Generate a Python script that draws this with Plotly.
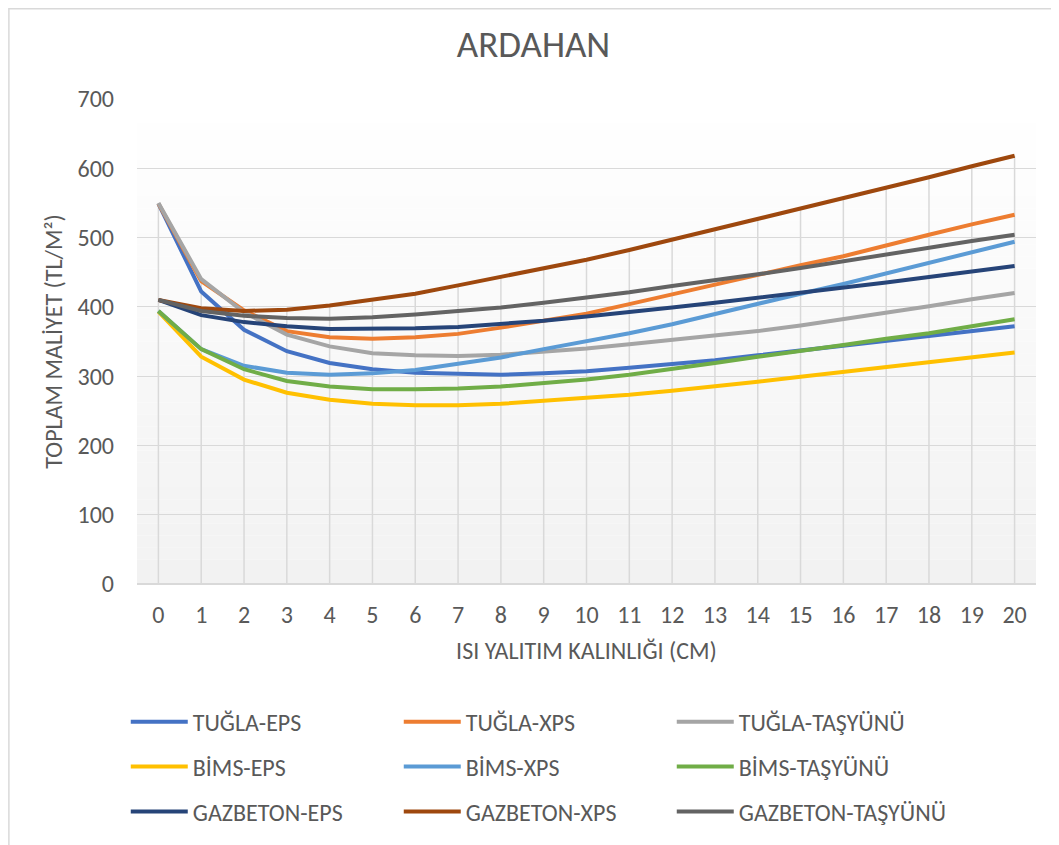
import plotly.graph_objects as go

# ısı yalıtım kalınlığı (cm)
thickness = list(range(21))

tugla_eps = [549, 422, 367, 336, 319, 310, 305, 303, 302, 304, 307, 312, 317, 323, 330, 337, 344, 352, 359, 366, 372]
tugla_xps = [549, 437, 395, 365, 356, 354, 356, 361, 370, 380, 390, 404, 418, 432, 447, 460, 473, 489, 504, 519, 533]
tugla_tasyunu = [550, 440, 392, 360, 343, 333, 330, 329, 331, 335, 340, 346, 352, 358, 365, 373, 382, 391, 401, 411, 420]
bims_eps = [393, 328, 295, 276, 266, 260, 258, 258, 260, 264, 268, 273, 279, 285, 292, 299, 306, 313, 319, 326, 334]
bims_xps = [394, 339, 315, 305, 302, 304, 309, 318, 327, 339, 350, 362, 375, 390, 405, 419, 433, 448, 464, 479, 494]
bims_tasyunu = [394, 339, 310, 293, 285, 281, 281, 282, 285, 290, 295, 302, 310, 319, 328, 336, 345, 354, 362, 372, 382]
gazbeton_eps = [410, 388, 378, 372, 368, 368, 369, 371, 375, 380, 386, 392, 399, 406, 413, 420, 427, 435, 443, 451, 459]
gazbeton_xps = [410, 398, 394, 396, 402, 410, 419, 431, 443, 455, 468, 482, 497, 511, 526, 541, 556, 571, 587, 603, 618]
gazbeton_tasyunu = [410, 394, 387, 384, 383, 385, 389, 394, 399, 406, 413, 421, 430, 438, 447, 456, 466, 475, 485, 495, 504]

names = ["TUĞLA-EPS", "TUĞLA-XPS", "TUĞLA-TAŞYÜNÜ",
         "BİMS-EPS", "BİMS-XPS", "BİMS-TAŞYÜNÜ",
         "GAZBETON-EPS", "GAZBETON-XPS", "GAZBETON-TAŞYÜNÜ"]
series = [tugla_eps, tugla_xps, tugla_tasyunu,
          bims_eps, bims_xps, bims_tasyunu,
          gazbeton_eps, gazbeton_xps, gazbeton_tasyunu]
colors = ["#4472C4", "#ED7D31", "#A5A5A5",
          "#FFC000", "#5B9BD5", "#70AD47",
          "#264478", "#9E480E", "#636363"]

FONT = "'Liberation Sans Narrow', Carlito, Calibri, sans-serif"
GREY = "#595959"

fig = go.Figure()

# drop lines (from the highest series down to the axis)
drop_x, drop_y = [], []
for i, t in enumerate(thickness):
    top = max(s[i] for s in series)
    drop_x += [t, t, None]
    drop_y += [0, top, None]
fig.add_trace(go.Scatter(x=drop_x, y=drop_y, mode="lines",
                         line=dict(color="#d9d9d9", width=1.5),
                         showlegend=False, hoverinfo="skip"))

legends = ["legend", "legend2", "legend3"]
for k, (nm, s, c) in enumerate(zip(names, series, colors)):
    fig.add_trace(go.Scatter(x=thickness, y=s, name=nm, mode="lines",
                             line=dict(color=c, width=4),
                             legend=legends[k // 3]))

# plot-area gradient, white at top to light grey at bottom
n = 40
shapes = []
for j in range(n):
    g = round(255 - 13 * (j + 0.5) / n)
    shapes.append(dict(type="rect", xref="paper", yref="paper",
                       x0=0, x1=1, y0=1 - (j + 1) / n, y1=1 - j / n,
                       fillcolor=f"rgb({g},{g},{g})", line=dict(width=0),
                       layer="below"))
# chart border (left and top edges visible)
shapes.append(dict(type="line", xref="paper", yref="paper",
                   x0=-0.1425, x1=-0.1425, y0=-0.55, y1=1.19,
                   line=dict(color="#d9d9d9", width=1.5)))
shapes.append(dict(type="line", xref="paper", yref="paper",
                   x0=-0.1425, x1=1.03, y0=1.186, y1=1.186,
                   line=dict(color="#d9d9d9", width=1.5)))

leg_common = dict(orientation="h", xanchor="left", yanchor="middle",
                  x=-0.0125, entrywidth=201, entrywidthmode="pixels",
                  font=dict(family=FONT, size=24, color=GREY),
                  bgcolor="rgba(0,0,0,0)", itemwidth=57)

fig.update_layout(
    width=1051, height=837,
    margin=dict(l=129, r=23, t=91, b=260),
    paper_bgcolor="white", plot_bgcolor="rgba(0,0,0,0)",
    font=dict(family=FONT, size=24, color=GREY),
    title=dict(text="ARDAHAN", x=0.5, xanchor="center", y=0.957, yanchor="middle",
               font=dict(family=FONT, size=37, color=GREY)),
    xaxis=dict(title=dict(text="ISI YALITIM KALINLIĞI (CM)", standoff=14,
                          font=dict(size=24, color=GREY)),
               range=[-0.5, 20.5], tickmode="array", tickvals=thickness,
               ticktext=[str(t) for t in thickness],
               showgrid=False, zeroline=False, showline=False, ticks="",
               ticklabelstandoff=14),
    yaxis=dict(title=dict(text="TOPLAM MALİYET (TL/M²)", standoff=8,
                          font=dict(size=24, color=GREY)),
               range=[0, 700], dtick=100, showgrid=True, gridcolor="#d9d9d9",
               gridwidth=1, zeroline=True, zerolinecolor="#d9d9d9", zerolinewidth=2,
               showline=False, ticks="", ticklabelstandoff=22),
    legend=dict(y=-0.282, **leg_common),
    legend2=dict(y=-0.3745, **leg_common),
    legend3=dict(y=-0.467, **leg_common),
    shapes=shapes,
)

fig.write_html("out.html")
